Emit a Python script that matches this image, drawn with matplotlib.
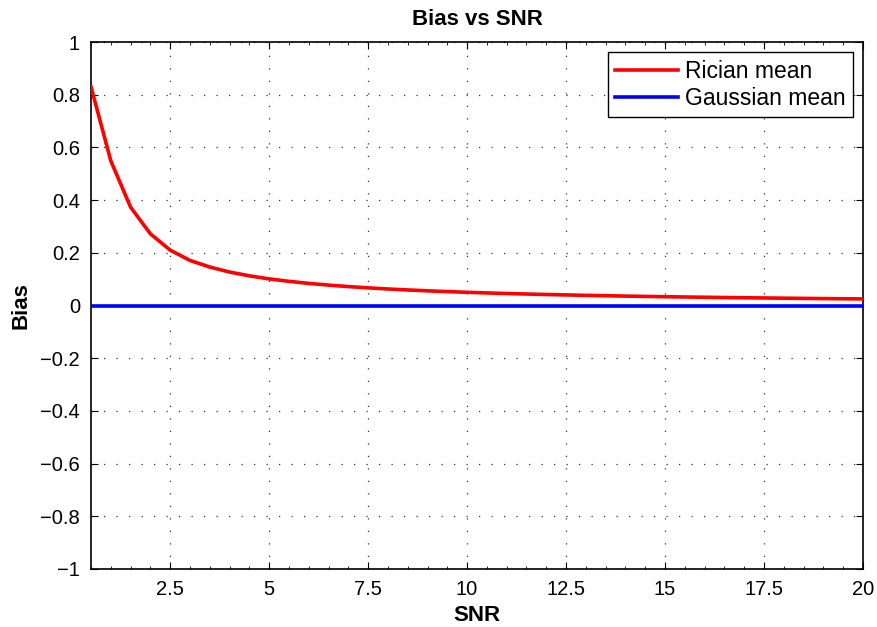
import matplotlib
matplotlib.use("Agg")
import matplotlib.pyplot as plt
from matplotlib.ticker import MultipleLocator

plt.rcParams['font.family'] = ['Liberation Sans', 'DejaVu Sans']

snr = [0.5, 1.0, 1.5, 2.0, 2.5, 3.0, 3.5, 4.0, 4.5, 5.0,
       5.5, 6.0, 6.5, 7.0, 7.5, 8.0, 8.5, 9.0, 9.5, 10.0,
       10.5, 11.0, 11.5, 12.0, 12.5, 13.0, 13.5, 14.0, 14.5, 15.0,
       15.5, 16.0, 16.5, 17.0, 17.5, 18.0, 18.5, 19.0, 19.5, 20.0]
rician_bias = [0.830, 0.549, 0.373, 0.272, 0.210, 0.171, 0.146, 0.127, 0.1125, 0.101,
               0.0917, 0.0839, 0.0774, 0.0718, 0.0670, 0.0627, 0.0590, 0.0557, 0.0528, 0.0501,
               0.0477, 0.0455, 0.0436, 0.0417, 0.0401, 0.0385, 0.0371, 0.0357, 0.0345, 0.0334,
               0.0323, 0.0313, 0.0303, 0.0294, 0.0286, 0.0278, 0.0270, 0.0263, 0.0256, 0.0250]
gaussian_bias = [0.0] * len(snr)

xticks = [2.5, 5, 7.5, 10, 12.5, 15, 17.5, 20]
xtick_labels = ['2.5', '5', '7.5', '10', '12.5', '15', '17.5', '20']
yticks = [-1, -0.8, -0.6, -0.4, -0.2, 0, 0.2, 0.4, 0.6, 0.8, 1]
ytick_labels = ['\u22121', '\u22120.8', '\u22120.6', '\u22120.4', '\u22120.2', '0',
                '0.2', '0.4', '0.6', '0.8', '1']

fig = plt.figure(figsize=(8.77, 6.27), dpi=100)
ax = fig.add_axes([91 / 877, 1 - 569 / 627, (863 - 91) / 877, (569 - 42) / 627])

ax.plot(snr, rician_bias, color='#ff0000', lw=2.6, label='Rician mean', zorder=3)
ax.plot(snr, gaussian_bias, color='#0000ff', lw=2.6, label='Gaussian mean', zorder=3)

ax.set_xlim(0.5, 20)
ax.set_ylim(-1, 1)
ax.set_xticks(xticks)
ax.set_xticklabels(xtick_labels)
ax.set_yticks(yticks)
ax.set_yticklabels(ytick_labels)
ax.xaxis.set_minor_locator(MultipleLocator(0.5))

ax.grid(True, which='major', linestyle=(0, (1, 9)), color='#333333', linewidth=0.9)
ax.tick_params(axis='both', which='major', direction='in', length=5, width=0.8,
               labelsize=14.5, top=True, right=True, pad=8)
ax.tick_params(axis='x', which='minor', direction='in', length=2.5, width=0.6,
               top=True, bottom=True)
for sp in ax.spines.values():
    sp.set_linewidth(1.2)

ax.set_title('Bias vs SNR', fontsize=16, fontweight='bold', pad=12)
ax.set_xlabel('SNR', fontsize=16, fontweight='bold', labelpad=4)
ax.set_ylabel('Bias', fontsize=16, fontweight='bold', labelpad=6)

leg = ax.legend(loc='upper right', fontsize=16.5, fancybox=False, framealpha=1,
                edgecolor='black', handlelength=2.75, borderaxespad=0.45,
                labelspacing=0.18, borderpad=0.32, handletextpad=0.3,
                handleheight=0.7)
leg.get_frame().set_linewidth(1.0)

fig.savefig('out.png', dpi=100)
